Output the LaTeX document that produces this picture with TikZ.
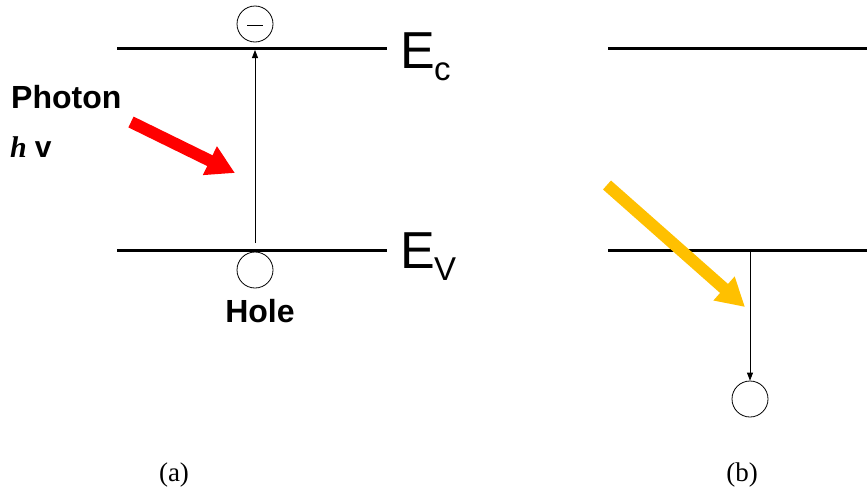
\documentclass[tikz,border=0pt]{standalone}
\usepackage{fontspec}
\setmainfont{Liberation Sans}
\newfontfamily\serifab{Liberation Serif}
\usetikzlibrary{arrows.meta}
\definecolor{photonred}{RGB}{255,0,0}
\definecolor{photonyellow}{RGB}{255,192,0}
\begin{document}
\begin{tikzpicture}[x=1pt,y=-1pt,
  band/.style={line width=3pt},
  carrier/.style={circle,draw,line width=0.8pt,minimum size=36pt,inner sep=0pt},
  thinarrow/.style={line width=0.8pt,-{Triangle[length=8pt,width=6pt]}},
  photon/.style={line width=12pt,-{Triangle[length=28pt,width=30pt]}},
  boldlbl/.style={font=\fontsize{32}{36}\selectfont\bfseries,inner sep=0pt},
  bigE/.style={font=\fontsize{52}{60}\selectfont,inner sep=0pt,anchor=base west},
  sub/.style={font=\fontsize{33}{38}\selectfont,inner sep=0pt,anchor=base west},
  caption/.style={font=\serifab\fontsize{27}{30}\selectfont,inner sep=0pt,anchor=base}]
\useasboundingbox (0,0) rectangle (867,490);

% band lines
\coordinate (ca1) at (117,48);  \coordinate (ca2) at (387,48);
\coordinate (va1) at (117,250); \coordinate (va2) at (387,250);
\coordinate (cb1) at (608,48);  \coordinate (cb2) at (867,48);
\coordinate (vb1) at (608,250); \coordinate (vb2) at (867,250);
\draw[band] (ca1) -- (ca2);
\draw[band] (va1) -- (va2);
\draw[band] (cb1) -- (cb2);
\draw[band] (vb1) -- (vb2);

% band labels
\node[bigE] (ecE) at (400,68) {E};
\node[sub] (ecs) at (434,80) {c};
\node[bigE] (evE) at (400,268) {E};
\node[sub] (evs) at (434,280) {V};

% carriers (a)
\node[carrier] (e1) at (255,24) {};
\draw[line width=1pt] ([xshift=-8pt,yshift=-1pt]e1.center) -- ([xshift=8pt,yshift=-1pt]e1.center);
\node[carrier] (h1) at (255,270) {};
\coordinate (up1) at (255,243);
\coordinate (up2) at (255,50);
\draw[thinarrow] (up1) -- (up2);
\node[boldlbl,anchor=base] (hole) at (260,322) {Hole};

% photon (a)
\node[boldlbl,anchor=base west] (photon) at (11,108) {Photon};
\node[inner sep=0pt,anchor=base west] (hv) at (10,157)
  {{\serifab\fontsize{30}{32}\selectfont\bfseries\itshape h}\hspace{8pt}{\fontsize{30}{32}\selectfont\bfseries v}};
\coordinate (ra1) at (131,122);
\coordinate (ra2) at (235,173);
\draw[photon,photonred] (ra1) -- (ra2);

% (b)
\node[carrier] (h2) at (750,399) {};
\coordinate (dn1) at (750,251);
\draw[thinarrow] (dn1) -- (h2.north);
\coordinate (ya1) at (607,185);
\coordinate (ya2) at (745,307);
\draw[photon,photonyellow] (ya1) -- (ya2);

% captions
\node[caption] (capa) at (174,481) {(a)};
\node[caption] (capb) at (742,481) {(b)};
\end{tikzpicture}
\end{document}
